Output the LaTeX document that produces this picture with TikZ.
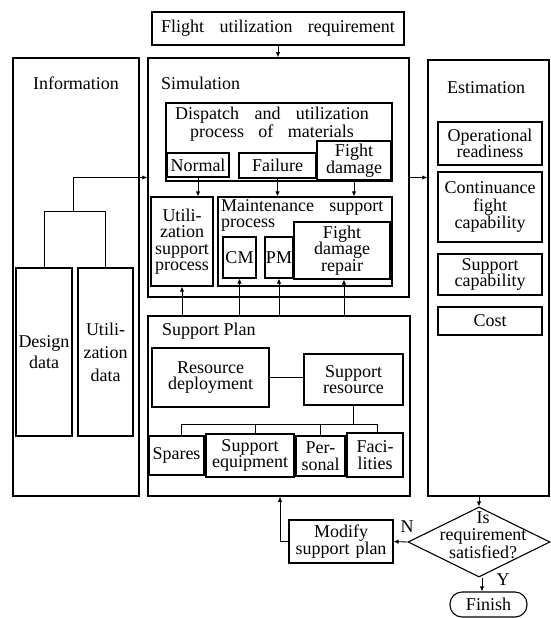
\documentclass[tikz,border=0pt]{standalone}
\usepackage{fontspec}
\setmainfont{Liberation Serif}
\usetikzlibrary{shapes.geometric,arrows.meta}
\newcommand\wsp{\hspace{0.85em}}
\begin{document}
\begin{tikzpicture}[x=1pt,y=-1pt,
  txt/.style={font=\fontsize{18}{16.5}\selectfont, align=center, inner sep=0pt},
  box/.style={txt, draw, line width=1.1pt},
  cont/.style={draw, line width=1.5pt, inner sep=0pt},
  arr/.style={line width=0.9pt, -{Latex[length=5pt,width=4.5pt]}},
  ln/.style={line width=0.9pt}]
\useasboundingbox (0,0) rectangle (551,618);
% containers
\node[cont, minimum width=126pt, minimum height=438pt] (info) at (76,277) {};
\node[cont, minimum width=261pt, minimum height=239pt] (sim) at (278.5,177.5) {};
\node[cont, minimum width=121pt, minimum height=436pt] (est) at (488.5,278) {};
\node[cont, minimum width=262pt, minimum height=180pt] (supplan) at (279,406) {};
\node[txt] (infolab) at (76,83) {Information};
\node[txt, anchor=west] (simlab) at (161,83) {Simulation};
\node[txt] (estlab) at (486,88) {Estimation};
\node[txt, anchor=west] (splab) at (162,331) {Support Plan};
% top
\node[box, text width=252pt, minimum height=33pt] (flight) at (278,28.5) {Flight\wsp utilization\wsp requirement};
% simulation contents
\node[draw, line width=1.1pt, inner sep=0pt, minimum width=226pt, minimum height=78pt] (disp) at (279,142) {};
\node[txt] (displab) at (272,124) {Dispatch\wsp and\wsp utilization\\process\hspace{0.55em} of\hspace{0.55em} materials};
\node[box, text width=62pt, minimum height=24pt] (normal) at (198,165) {Normal};
\node[box, text width=77pt, minimum height=25pt] (failure) at (277.5,165.5) {Failure};
\node[box, text width=74pt, minimum height=39pt, fill=white] (fightdmg) at (354,160.5) {Fight\\damage};
\node[box, text width=62pt, minimum height=89pt] (utilsup) at (182,241.5) {Utili-\\zation\\support\\process};
\node[draw, line width=1.1pt, inner sep=0pt, minimum width=174pt, minimum height=89pt] (maint) at (305,241.5) {};
\node[txt, anchor=north west, align=left] (maintlab) at (221,199) {Maintenance\wsp support\\process};
\node[box, text width=33pt, minimum height=41pt] (cm) at (239.5,257.5) {CM};
\node[box, text width=28pt, minimum height=41pt] (pm) at (279,257.5) {PM};
\node[box, text width=96pt, minimum height=57pt, fill=white] (fdr) at (342,250.5) {Fight\\damage\\repair};
% support plan contents
\node[box, text width=117pt, minimum height=59pt] (resdep) at (210.5,377.5) {Resource\\deployment};
\node[box, text width=99pt, minimum height=51pt] (supres) at (353.5,379.5) {Support\\resource};
\node[box, text width=55pt, minimum height=39pt] (spares) at (176.5,455.5) {Spares};
\node[box, text width=88pt, minimum height=43pt] (supeq) at (250,455.5) {Support\\equipment};
\node[box, text width=49pt, minimum height=40pt] (personal) at (320.5,456) {Per-\\sonal};
\node[box, text width=56pt, minimum height=44pt] (facil) at (375,455) {Faci-\\lities};
% information contents
\node[box, text width=56pt, minimum height=168pt, font=\fontsize{18}{21}\selectfont] (design) at (44,352) {Design\\data};
\node[box, text width=55pt, minimum height=168pt, font=\fontsize{18}{23}\selectfont] (utildata) at (105.5,352) {Utili-\\zation\\data};
% estimation contents
\node[box, text width=104pt, minimum height=43pt] (opr) at (490,143.5) {Operational\\readiness};
\node[box, text width=104pt, minimum height=70pt, font=\fontsize{18}{17.5}\selectfont] (contf) at (490,207) {Continuance\\fight\\capability};
\node[box, text width=104pt, minimum height=41pt, font=\fontsize{18}{16.5}\selectfont] (supcap) at (490,274.5) {Support\\capability};
\node[box, text width=104pt, minimum height=28pt] (cost) at (490,321) {Cost};
% decision loop
\node[diamond, draw, line width=1.1pt, inner sep=0pt, minimum width=142pt, minimum height=70pt] (dec) at (479,542) {};
\node[txt, font=\fontsize{18}{17.5}\selectfont] (dectxt) at (483,535) {Is\\requirement\\satisfied?};
\node[box, text width=104pt, minimum height=43pt] (modify) at (341,541.5) {Modify\\support plan};
\node[box, text width=77pt, minimum height=25pt, rounded corners=12pt] (finish) at (488.5,604.5) {Finish};
\node[txt] (nlab) at (407,527) {N};
\node[txt] (ylab) at (503,580) {Y};
% connectors
\draw[arr] (flight.south) -- (flight.south |- sim.north);
\draw[arr] (normal.south) -- (normal.south |- utilsup.north);
\draw[arr] (failure.south) -- (failure.south |- maint.north);
\draw[arr] (fightdmg.south) -- (fightdmg.south |- maint.north);
\draw[arr] (utilsup.south |- supplan.north) -- (utilsup.south);
\draw[arr] (cm.south |- supplan.north) -- (cm.south);
\draw[arr] (pm.south |- supplan.north) -- (pm.south);
\draw[arr] ([xshift=2pt]fdr.south |- supplan.north) -- ([xshift=2pt]fdr.south);
\draw[arr] (sim.east) -- (sim.east -| est.west);
% information tree
\coordinate (tj) at (73,211);
\coordinate (ta) at (73,177.5);
\draw[ln] (design.north) -- (design.north |- tj) -- (utildata.north |- tj) -- (utildata.north);
\draw[arr] (tj) -- (ta) -- (ta -| sim.west);
% support plan tree
\coordinate (bus) at (0,424);
\draw[ln] (resdep.east) -- (resdep.east -| supres.west);
\draw[ln] (supres.south) -- (supres.south |- bus);
\draw[ln] ([xshift=5pt]spares.north |- bus) -- ([xshift=2pt]facil.north |- bus);
\draw[ln] ([xshift=5pt]spares.north |- bus) -- ([xshift=5pt]spares.north);
\draw[ln] ([xshift=5pt]supeq.north |- bus) -- ([xshift=5pt]supeq.north);
\draw[ln] (personal.north |- bus) -- (personal.north);
\draw[ln] ([xshift=2pt]facil.north |- bus) -- ([xshift=2pt]facil.north);
% decision connectors
\draw[arr] (dec.north |- est.south) -- (dec.north);
\draw[arr] (dec.west) -- (modify.east);
\coordinate (mc) at (280,541.5);
\draw[arr] (modify.west) -- (mc) -- (mc |- supplan.south);
\draw[arr] ([xshift=3pt]dec.south) -- ([xshift=3pt]dec.south |- finish.north);
\end{tikzpicture}
\end{document}
